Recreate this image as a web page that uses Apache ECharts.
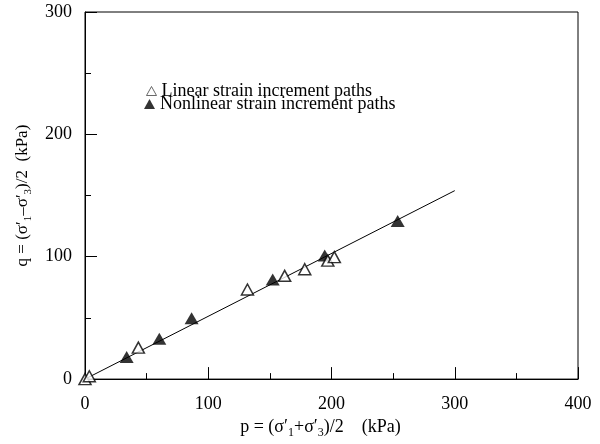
<!DOCTYPE html>
<html>
<head>
<meta charset="utf-8">
<script src="https://cdn.jsdelivr.net/npm/echarts@6/dist/echarts.min.js"></script>
<style>
html, body { margin: 0; padding: 0; background: #fff; }
#main { width: 600px; height: 444px; }
</style>
</head>
<body>
<div id="main"></div>
<script>
var linearPaths = [[0, 0], [3.5, 2.3], [43.3, 25.7], [131.8, 73.2], [162, 84.4], [178.3, 89.8], [197, 96.8], [202.3, 99.7]];
var nonlinearPaths = [[33.8, 18], [60.3, 33], [86.5, 49.7], [152.3, 81.3], [194.5, 101], [253.7, 129.2]];
var fitLine = [[0, 0], [300, 154]];

var serif = "'Liberation Serif', 'Times New Roman', serif";

var chart = echarts.init(document.getElementById('main'));

function richStyles(size) {
	return {
		b: { fontFamily: serif, fontSize: size, color: '#000', lineHeight: 22, verticalAlign: 'bottom' },
		s: { fontFamily: serif, fontSize: Math.round(size * 0.67), color: '#000', lineHeight: 22, verticalAlign: 'bottom', padding: [0, 0, -3, 0] }
	};
}

var option = {
	animation: false,
	backgroundColor: '#fff',
	grid: {
		left: 85,
		right: 22,
		top: 12,
		bottom: 62,
		show: true,
		borderColor: '#000',
		borderWidth: 1
	},
	legend: [
		{
			left: 141,
			top: 77,
			itemWidth: 10,
			itemHeight: 9,
			data: [{
				name: 'Linear strain increment paths',
				icon: 'triangle',
				itemStyle: { color: '#fff', borderColor: '#444', borderWidth: 1 }
			}],
			textStyle: { fontFamily: serif, fontSize: 18, color: '#000', lineHeight: 14 }
		},
		{
			left: 139,
			top: 90,
			itemWidth: 11,
			itemHeight: 10,
			data: [{ name: 'Nonlinear strain increment paths', icon: 'triangle' }],
			textStyle: { fontFamily: serif, fontSize: 18, color: '#000', lineHeight: 14 }
		}
	],
	xAxis: {
		type: 'value',
		min: 0,
		max: 400,
		interval: 100,
		name: '{b|p = (σ′}{s|1}{b|+σ′}{s|3}{b|)/2    (kPa)}',
		nameLocation: 'middle',
		nameGap: 34,
		nameTextStyle: { rich: richStyles(18), padding: [0, 22, 0, 0] },
		axisLine: { show: true, lineStyle: { color: '#000', width: 1 } },
		axisTick: { show: true, inside: true, length: 12, lineStyle: { color: '#000' } },
		minorTick: { show: true, splitNumber: 2, length: 6, lineStyle: { color: '#000' } },
		splitLine: { show: false },
		axisLabel: { fontFamily: serif, fontSize: 18, color: '#000', margin: 16 }
	},
	yAxis: {
		type: 'value',
		min: 0,
		max: 300,
		interval: 100,
		name: '{b|q = (σ′}{s|1}{b|–σ′}{s|3}{b|)/2  (kPa)}',
		nameLocation: 'middle',
		nameGap: 42,
		nameRotate: 90,
		nameTextStyle: { rich: richStyles(17) },
		axisLine: { show: true, lineStyle: { color: '#000', width: 1 } },
		axisTick: { show: true, inside: true, length: 12, lineStyle: { color: '#000' } },
		minorTick: { show: true, splitNumber: 2, length: 6, lineStyle: { color: '#000' } },
		splitLine: { show: false },
		axisLabel: { fontFamily: serif, fontSize: 18, color: '#000', margin: 13 }
	},
	series: [
		{
			type: 'line',
			data: fitLine,
			symbol: 'none',
			silent: true,
			lineStyle: { color: '#000', width: 1 },
			z: 1
		},
		{
			name: 'Linear strain increment paths',
			type: 'scatter',
			data: linearPaths,
			symbol: 'triangle',
			symbolSize: [12, 11],
			itemStyle: { color: '#fff', borderColor: '#000', borderWidth: 1.5 },
			z: 3
		},
		{
			name: 'Nonlinear strain increment paths',
			type: 'scatter',
			data: nonlinearPaths,
			symbol: 'triangle',
			symbolSize: [14, 12],
			itemStyle: { color: '#000' },
			z: 2
		}
	]
};

chart.setOption(option);
</script>
</body>
</html>
